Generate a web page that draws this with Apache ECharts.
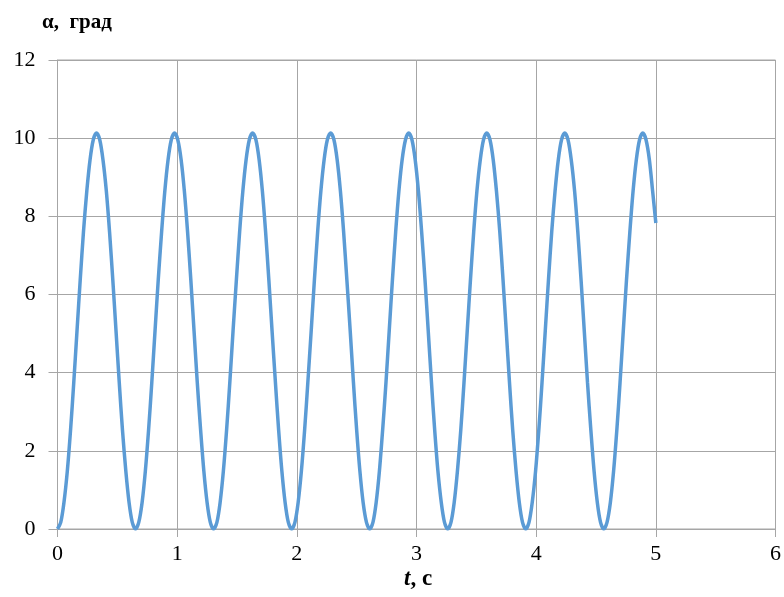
<!DOCTYPE html>
<html>
<head>
<meta charset="utf-8">
<script src="https://cdn.jsdelivr.net/npm/echarts@6/dist/echarts.min.js"></script>
<style>html,body{margin:0;padding:0;background:#fff}#c{width:784px;height:597px}</style>
</head>
<body>
<div id="c"></div>
<script>
// t, s
var tValues = [
0.000,0.027,0.054,0.082,0.109,0.136,0.163,0.190,0.217,0.245,0.272,0.299,0.326,0.353,0.380,0.408,0.435,0.462,0.489,0.516,0.543,0.571,0.598,0.625,
0.652,0.679,0.707,0.734,0.761,0.788,0.815,0.842,0.870,0.897,0.924,0.951,0.978,1.005,1.033,1.060,1.087,1.114,1.141,1.168,1.196,1.223,1.250,1.277,
1.304,1.332,1.359,1.386,1.413,1.440,1.467,1.495,1.522,1.549,1.576,1.603,1.630,1.658,1.685,1.712,1.739,1.766,1.793,1.821,1.848,1.875,1.902,1.929,
1.957,1.984,2.011,2.038,2.065,2.092,2.120,2.147,2.174,2.201,2.228,2.255,2.283,2.310,2.337,2.364,2.391,2.418,2.446,2.473,2.500,2.527,2.554,2.582,
2.609,2.636,2.663,2.690,2.717,2.745,2.772,2.799,2.826,2.853,2.880,2.908,2.935,2.962,2.989,3.016,3.043,3.071,3.098,3.125,3.152,3.179,3.207,3.234,
3.261,3.288,3.315,3.342,3.370,3.397,3.424,3.451,3.478,3.505,3.533,3.560,3.587,3.614,3.641,3.668,3.696,3.723,3.750,3.777,3.804,3.832,3.859,3.886,
3.913,3.940,3.967,3.995,4.022,4.049,4.076,4.103,4.130,4.158,4.185,4.212,4.239,4.266,4.293,4.321,4.348,4.375,4.402,4.429,4.457,4.484,4.511,4.538,
4.565,4.592,4.620,4.647,4.674,4.701,4.728,4.755,4.783,4.810,4.837,4.864,4.891,4.918,4.946,4.973,5.000];
// alpha, deg
var alphaValues = [
0,0.17,0.68,1.48,2.53,3.75,5.07,6.38,7.60,8.65,9.45,9.96,10.13,9.96,9.45,8.65,7.60,6.38,5.07,3.75,2.53,1.48,0.68,0.17,
0,0.17,0.68,1.48,2.53,3.75,5.07,6.38,7.60,8.65,9.45,9.96,10.13,9.96,9.45,8.65,7.60,6.38,5.07,3.75,2.53,1.48,0.68,0.17,
0,0.17,0.68,1.48,2.53,3.75,5.07,6.38,7.60,8.65,9.45,9.96,10.13,9.96,9.45,8.65,7.60,6.38,5.07,3.75,2.53,1.48,0.68,0.17,
0,0.17,0.68,1.48,2.53,3.75,5.07,6.38,7.60,8.65,9.45,9.96,10.13,9.96,9.45,8.65,7.60,6.38,5.07,3.75,2.53,1.48,0.68,0.17,
0,0.17,0.68,1.48,2.53,3.75,5.07,6.38,7.60,8.65,9.45,9.96,10.13,9.96,9.45,8.65,7.60,6.38,5.07,3.75,2.53,1.48,0.68,0.17,
0,0.17,0.68,1.48,2.53,3.75,5.07,6.38,7.60,8.65,9.45,9.96,10.13,9.96,9.45,8.65,7.60,6.38,5.07,3.75,2.53,1.48,0.68,0.17,
0,0.17,0.68,1.48,2.53,3.75,5.07,6.38,7.60,8.65,9.45,9.96,10.13,9.96,9.45,8.65,7.60,6.38,5.07,3.75,2.53,1.48,0.68,0.17,
0,0.17,0.68,1.48,2.53,3.75,5.07,6.38,7.60,8.65,9.45,9.96,10.13,9.96,9.45,8.65,7.83];
var xTicks = [0,1,2,3,4,5,6];
var yTicks = [0,2,4,6,8,10,12];
var yLabel = 'α,  град';
var xLabelT = 't';
var xLabelRest = ', с';

var data = tValues.map(function(t,i){return [t, alphaValues[i]];});
var chart = echarts.init(document.getElementById('c'));
var serif = '"Liberation Serif","Times New Roman",serif';
var gridColor = '#a6a6a6';
chart.setOption({
  animation:false,
  backgroundColor:'#fff',
  grid:{left:57.5,right:8,top:60,bottom:68,containLabel:false,show:true,borderColor:gridColor,borderWidth:1},
  xAxis:{type:'value',min:xTicks[0],max:xTicks[xTicks.length-1],interval:1,
    axisLine:{show:true,lineStyle:{color:gridColor,width:1}},
    axisTick:{show:true,length:8,lineStyle:{color:gridColor,width:1}},
    splitLine:{show:true,lineStyle:{color:gridColor,width:1}},
    axisLabel:{fontFamily:serif,fontSize:22,color:'#000',margin:14}},
  yAxis:{type:'value',min:yTicks[0],max:yTicks[yTicks.length-1],interval:2,
    axisLine:{show:true,lineStyle:{color:gridColor,width:1}},
    axisTick:{show:true,length:9,lineStyle:{color:gridColor,width:1}},
    splitLine:{show:true,lineStyle:{color:gridColor,width:1}},
    axisLabel:{fontFamily:serif,fontSize:22,color:'#000',margin:22}},
  graphic:[
    {type:'text',left:42,top:12,style:{text:yLabel,font:'bold 21px '+serif,fill:'#000'}},
    {type:'text',left:404,top:568,style:{
      text:'{i|'+xLabelT+'}{b|'+xLabelRest+'}',
      rich:{i:{font:'italic bold 23px '+serif,fill:'#000'},b:{font:'bold 23px '+serif,fill:'#000'}}}}
  ],
  series:[{type:'line',data:data,smooth:0.3,showSymbol:false,
    lineStyle:{color:'#5b9bd5',width:3.5}}]
});
</script>
</body>
</html>
